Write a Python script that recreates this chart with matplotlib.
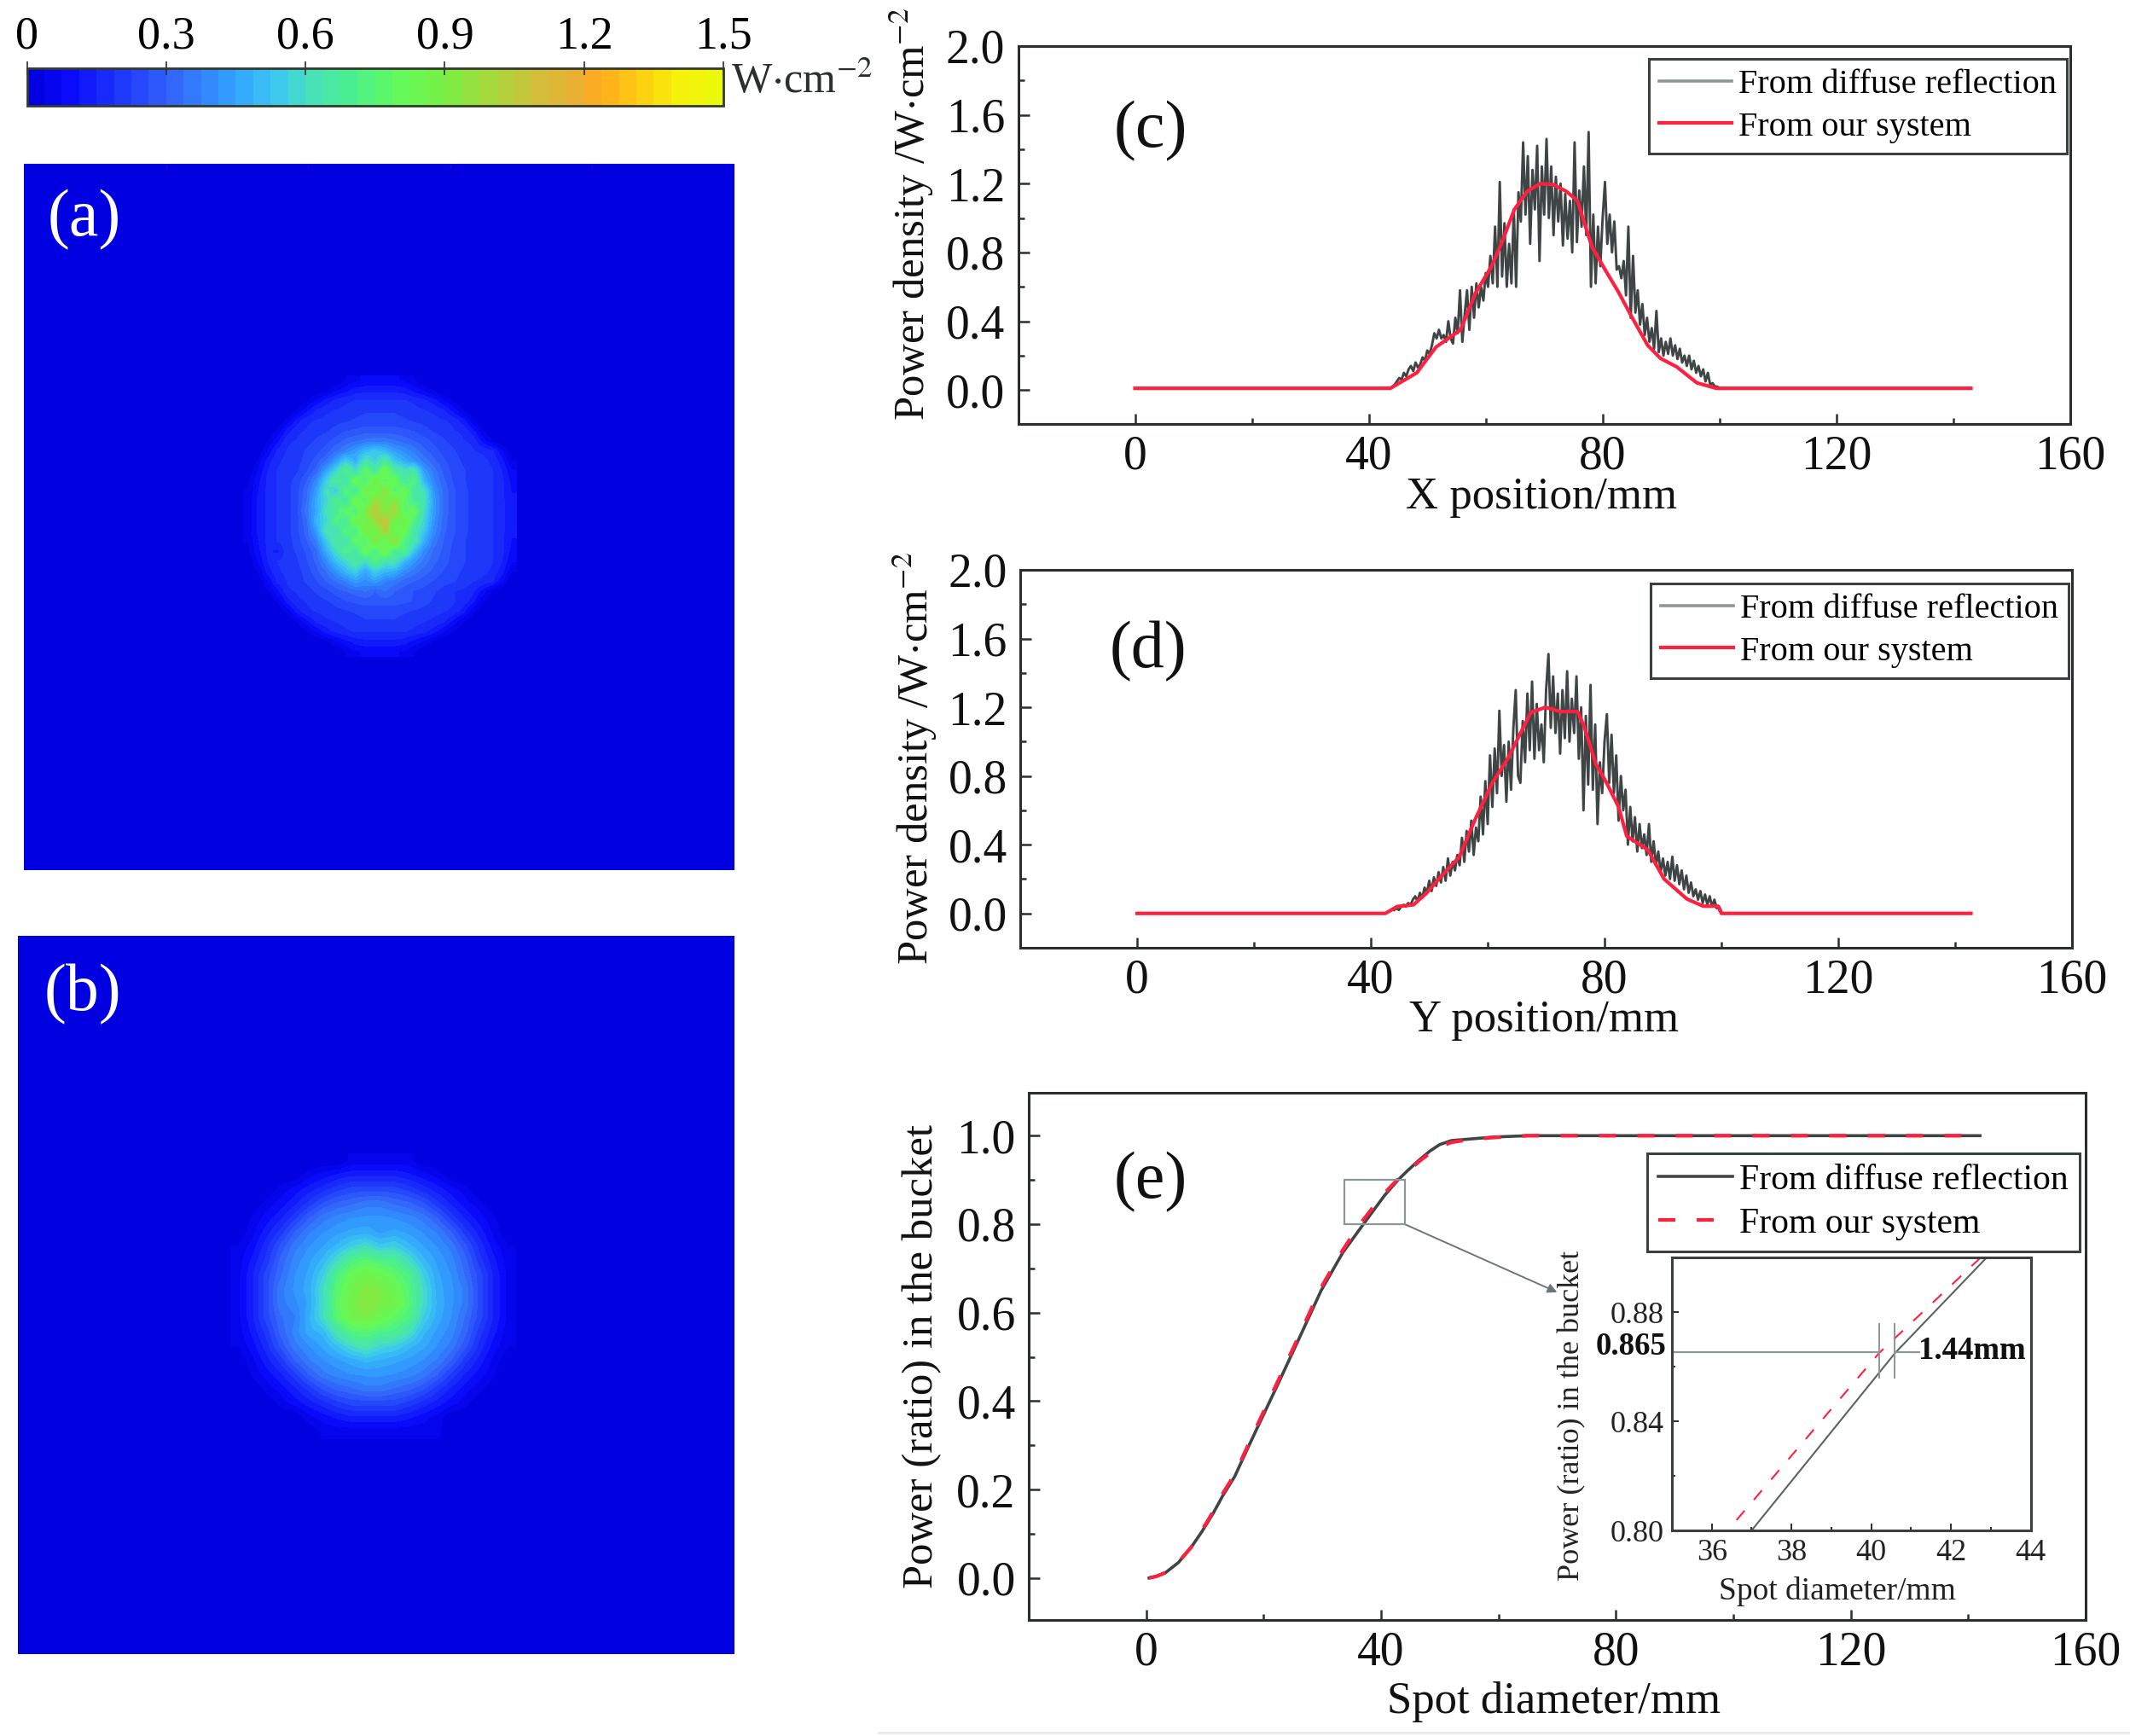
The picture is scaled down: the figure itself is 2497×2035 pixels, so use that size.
import numpy as np
import matplotlib
matplotlib.use("Agg")
import matplotlib.pyplot as plt
from matplotlib.colors import LinearSegmentedColormap, Normalize
from matplotlib.cm import ScalarMappable
from matplotlib.lines import Line2D
from matplotlib.patches import Rectangle
from matplotlib.ticker import MultipleLocator, FormatStrFormatter

plt.rcParams['font.family'] = ['Liberation Serif', 'DejaVu Serif']
plt.rcParams['mathtext.fontset'] = 'stix'

# ---------------- data ----------------
cbar_ticks = [0, 0.3, 0.6, 0.9, 1.2, 1.5]
cbar_labels = ['0', '0.3', '0.6', '0.9', '1.2', '1.5']

# panel (a): power density x100 across the spot
grid_a = [
 [0,0,0,0,0,0,0,0,0,0,4,7,8,8,8,8,7,4,0,0,0,0,0,0,0,0,0,0],
 [0,0,0,0,0,0,0,0,3,7,10,13,14,14,14,14,13,10,7,3,0,0,0,0,0,0,0,0],
 [0,0,0,0,0,0,3,8,13,16,18,19,19,19,19,19,19,18,16,13,8,3,0,0,0,0,0,0],
 [0,0,0,0,0,4,10,16,18,19,20,21,22,22,22,22,21,20,19,18,16,10,4,0,0,0,0,0],
 [0,0,0,0,5,13,18,19,20,21,22,23,24,24,24,24,23,22,21,20,19,18,13,5,0,0,0,0],
 [0,0,0,4,13,18,19,21,22,24,26,27,28,28,28,28,27,26,24,22,21,19,18,13,4,0,0,0],
 [0,0,3,10,18,19,21,23,25,28,31,33,35,36,36,34,32,30,28,25,23,21,19,18,10,3,0,0],
 [0,0,8,16,19,21,23,25,28,33,38,44,50,54,50,44,40,36,31,28,25,23,21,19,18,16,8,0],
 [0,4,13,18,20,21,24,28,34,44,56,48,64,56,68,54,48,42,36,31,27,24,22,21,20,18,13,4],
 [0,8,15,19,20,22,26,32,46,58,72,60,80,66,86,68,62,66,44,36,29,25,23,21,20,19,15,8],
 [3,10,16,19,21,24,30,40,56,70,62,84,72,90,76,84,66,74,50,38,31,26,23,21,20,19,16,10],
 [4,11,16,19,21,25,33,44,62,54,76,66,88,80,96,74,84,66,62,42,33,27,24,21,20,19,16,11],
 [5,12,16,19,21,25,34,48,58,72,64,86,74,100,88,94,78,68,64,44,33,27,24,21,20,19,16,12],
 [5,12,16,19,21,25,36,46,62,68,80,72,92,106,90,102,76,82,60,44,33,27,24,21,20,19,16,12],
 [5,12,16,19,21,25,33,50,58,74,66,86,84,98,110,84,88,72,58,42,32,27,24,21,20,19,16,12],
 [5,12,16,19,21,25,32,44,64,60,76,70,90,84,104,80,84,64,54,40,31,27,24,21,20,19,16,12],
 [4,11,16,19,21,24,30,38,54,68,62,80,74,92,78,98,72,66,48,36,30,26,23,21,20,19,16,11],
 [3,10,16,14,21,23,27,33,48,60,72,64,82,70,86,68,72,52,40,33,29,25,23,21,20,19,16,10],
 [0,8,15,19,20,22,26,31,40,52,58,68,60,74,64,64,50,42,36,31,28,25,23,21,20,19,15,8],
 [0,4,13,18,20,21,24,29,34,42,50,56,46,56,50,48,40,36,32,29,26,24,22,21,20,18,13,4],
 [0,0,8,16,19,21,23,26,30,34,38,44,40,44,38,36,32,30,28,26,24,23,21,19,18,16,8,0],
 [0,0,3,10,18,19,21,23,25,28,30,32,34,30,34,30,28,26,25,23,21,19,18,16,10,3,0,0],
 [0,0,0,4,13,18,19,21,22,24,26,27,28,28,28,28,27,26,24,22,21,19,18,13,4,0,0,0],
 [0,0,0,0,5,13,18,19,20,21,22,23,24,24,24,24,23,22,21,20,19,18,13,5,0,0,0,0],
 [0,0,0,0,0,4,10,16,18,19,20,21,22,22,22,22,21,20,19,18,16,10,4,0,0,0,0,0],
 [0,0,0,0,0,0,3,8,13,16,18,19,19,19,19,19,19,18,16,13,8,3,0,0,0,0,0,0],
 [0,0,0,0,0,0,0,0,3,7,10,13,14,14,14,14,13,10,7,3,0,0,0,0,0,0,0,0],
 [0,0,0,0,0,0,0,0,0,0,4,7,8,8,8,8,7,4,0,0,0,0,0,0,0,0,0,0],
]

# panel (b): power density x100 across the spot
grid_b = [
 [0,0,0,0,0,0,0,0,5,5,5,5,5,0,0,0,0,0,0,0],
 [0,0,0,0,0,6,9,12,14,14,14,14,12,9,6,0,0,0,0,0],
 [0,0,0,5,9,13,17,21,24,24,24,24,21,17,13,9,5,0,0,0],
 [0,0,5,9,14,20,27,31,33,36,36,33,31,27,20,14,9,5,0,0],
 [0,4,9,14,21,30,36,39,41,42,42,41,39,36,30,21,14,9,4,0],
 [0,6,13,20,30,37,41,44,46,47,44,46,44,41,37,30,20,13,6,0],
 [4,9,17,27,36,41,45,50,56,60,54,56,50,45,41,36,27,17,9,4],
 [5,12,20,31,39,44,50,60,72,76,72,70,60,50,44,39,31,20,12,5],
 [6,14,24,33,41,46,56,72,82,86,84,78,72,56,46,41,33,24,14,6],
 [6,14,24,36,42,47,60,76,86,92,90,84,74,60,47,42,36,24,14,6],
 [6,14,24,36,40,46,60,78,88,94,90,86,76,60,48,42,36,24,14,6],
 [6,14,24,33,37,48,60,76,86,90,84,78,72,56,47,41,33,24,14,6],
 [5,12,20,31,39,47,50,64,74,76,72,70,62,50,44,39,31,20,12,5],
 [4,9,17,27,36,41,46,52,60,64,58,56,50,46,41,36,27,17,9,4],
 [0,6,13,20,30,37,41,44,47,50,48,46,44,41,37,30,20,13,6,0],
 [0,4,9,14,21,30,36,39,41,42,42,41,39,36,30,21,14,9,4,0],
 [0,0,5,9,14,20,27,31,33,36,36,33,31,27,20,14,9,5,0,0],
 [0,0,0,5,9,13,17,21,24,24,24,24,21,17,13,9,5,0,0,0],
 [0,0,0,0,0,6,9,12,14,14,14,14,12,9,6,0,0,0,0,0],
 [0,0,0,0,0,0,5,5,5,5,5,5,5,5,5,0,0,0,0,0],
]

# panels (c) and (d): detector samples from 44 mm to 100 mm, 0.4 mm apart
noise_x_start, noise_x_step = 44.0, 0.4
c_diffuse = [
 .02,.03,.05,.07,.06,.10,.08,.12,.14,.11,.16,
 .13,.15,.19,.17,.23,.21,.26,.33,.30,.35,
 .30,.32,.28,.40,.30,.27,.42,.33,.58,.28,
 .44,.58,.35,.60,.42,.62,.48,.60,.52,.68,
 .60,.78,.62,.95,.60,1.21,.66,.97,.60,.85,
 .62,1.05,.60,1.15,.98,1.44,1.02,1.36,.85,1.28,
 1.05,1.42,.75,1.30,1.02,1.46,1.00,1.30,.90,1.24,
 .98,1.20,.84,1.14,.88,1.10,.80,1.44,.86,1.16,
 .95,1.30,.90,1.50,.60,1.02,.62,.95,.72,1.00,
 1.21,.85,1.02,.80,.98,.70,.72,.65,.75,.55,
 .95,.42,.78,.45,.58,.38,.50,.32,.42,.28,
 .36,.24,.46,.22,.30,.20,.28,.21,.30,.20,
 .26,.18,.24,.16,.20,.14,.20,.12,.17,.10,
 .14,.08,.12,.05,.10,.03,.04,.02,.02,.01]
d_diffuse = [
 .02,.03,.02,.04,.05,.04,.06,.05,.08,.10,.07,
 .12,.09,.15,.12,.19,.13,.21,.16,.24,.18,
 .27,.19,.32,.22,.30,.25,.34,.28,.44,.30,
 .48,.36,.54,.34,.50,.42,.68,.46,.77,.52,
 .92,.62,.96,.70,1.18,.80,.98,.65,1.00,.72,
 1.08,1.30,.80,.76,1.12,.88,1.28,.95,1.35,.90,
 1.22,.95,1.10,.88,1.30,1.51,1.08,1.38,1.05,1.28,
 .93,1.30,1.02,1.41,1.00,1.25,1.05,1.38,.90,1.20,
 .60,1.15,.75,1.33,.72,1.10,.52,.88,.70,1.00,
 1.16,.76,1.04,.70,.92,.54,.80,.60,.72,.40,
 .62,.42,.56,.36,.52,.38,.46,.34,.52,.30,
 .42,.28,.36,.24,.32,.22,.30,.20,.33,.19,
 .28,.17,.25,.14,.22,.12,.18,.10,.14,.08,
 .13,.06,.11,.05,.10,.04,.08,.03,.04,.01]

c_sys_x = [0,43.7,48.2,51.5,55.7,58.2,61,62.9,64.9,67.1,69.3,71.5,73.8,75.7,76.8,78.2,80.5,82.7,84.9,87.7,89.9,92.7,96.1,99.4,143]
c_sys_y = [0.01,0.01,.10,.25,.35,.56,.72,.87,1.05,1.155,1.2,1.195,1.155,1.10,.98,.83,.695,.57,.43,.26,.184,.134,.042,0.01,0.01]
d_sys_x = [0,42.5,44.5,47.3,49.5,52.3,55.1,57.9,60.7,63.5,65.7,67.4,69.9,72.4,75.4,76.5,78.5,80.2,82.4,83.8,87.4,90.2,94.1,96.9,99.4,100,142.7]
d_sys_y = [0,0,.04,.05,.117,.226,.327,.55,.754,.905,1.055,1.17,1.2,1.175,1.175,1.09,.87,.77,.62,.45,.37,.20,.084,.042,.042,0,0]

# panel (e)
e_x = [0.5,1.8,3.3,5.5,7.7,9.5,11.4,13,15.1,17,18.8,22.5,26.2,29.8,33.5,37,40.6,42.9,44.6,46.5,48.3,50,52,55.6,59.3,65,142]
e_diff = [0,.004,.012,.035,.07,.105,.146,.185,.23,.285,.336,.44,.546,.65,.736,.80,.865,.90,.922,.945,.965,.98,.989,.993,.997,1,1]
e_sys_x = [0.5,1.8,3.3,5.5,7.7,9.5,11.4,13,15.1,17,18.8,22.5,26.2,29.8,33.5,36.4,40.2,42.75,44.6,46.5,48.3,50,52,55.6,59.3,65,142]
e_sys = [0,.004,.012,.036,.07,.108,.15,.19,.235,.29,.342,.447,.553,.657,.742,.80,.865,.90,.92,.942,.96,.975,.985,.992,.996,1,1]

legend_labels = ['From diffuse reflection', 'From our system']
inset_x = [36, 38, 40, 42, 44]
inset_y = [0.80, 0.84, 0.88]

# ---------------- helpers ----------------
W, H = 2497, 2035
fig = plt.figure(figsize=(W/100, H/100), dpi=100, facecolor='white')
def ax_px(l, t, r, b):
    return fig.add_axes([l/W, 1-b/H, (r-l)/W, (b-t)/H])
def tx(x, y, s, **kw):
    kw.setdefault('ha', 'center'); kw.setdefault('va', 'center')
    return fig.text(x/W, 1-y/H, s, **kw)

INK = '#2a2e2e'
RED = '#ff2040'
DARK = '#3f4545'
GREY = '#8d9696'
TICK_FS, LAB_FS, XLAB_FS = 40, 36.5, 38

cmap_pts = [(0,(0,0,225)),(.05,(10,10,250)),(.2,(50,100,250)),(.29,(50,160,255)),(.355,(60,200,240)),
            (.4,(70,225,190)),(.47,(75,240,140)),(.535,(100,250,90)),(.6,(120,240,70)),(.66,(160,220,60)),
            (.74,(210,190,60)),(.8,(235,175,50)),(.83,(255,170,30)),(.88,(255,200,20)),(.945,(245,240,10)),(1,(235,250,10))]
cmap = LinearSegmentedColormap.from_list('laser', [(p, tuple(v/255 for v in c)) for p, c in cmap_pts], N=40)
norm = Normalize(0, 1.5)
BG = (0, 0, 225/255)

# ---------------- colour bar ----------------
cax = ax_px(31.5, 80, 848, 124)
cb = fig.colorbar(ScalarMappable(norm, cmap), cax=cax, orientation='horizontal')
cb.set_ticks(cbar_ticks, labels=cbar_labels)
cax.xaxis.set_ticks_position('top')
cax.tick_params(axis='x', direction='inout', length=11, width=1.2, labelsize=39, pad=3, color=INK)
cb.outline.set_edgecolor('#333a2a'); cb.outline.set_linewidth(2)
tx(857, 97, r'W$\cdot$cm$^{-2}$', ha='left', fontsize=36, color=INK)

# ---------------- heat maps ----------------
def heat(box, grid, window, label, lab_xy, ticks):
    ax = ax_px(*box)
    ax.set_facecolor(BG)
    l, t, r, b = box
    kx, ky = 144/(r-l), 144/(b-t)
    wl, wt, wr, wb = window
    ext = ((wl-l)*kx, (wr-l)*kx, (b-wb)*ky, (b-wt)*ky)
    ax.imshow(np.array(grid)/100, cmap=cmap, norm=norm, extent=ext, interpolation='bilinear', aspect='auto', origin='upper')
    ax.set_xlim(0, 144); ax.set_ylim(0, 144)
    ax.set_yticks([])
    ax.set_xticks(ticks); ax.set_xticklabels([])
    ax.xaxis.set_ticks_position('top')
    ax.tick_params(axis='x', direction='in', length=4, width=1, color=(0.08,0.08,0.65))
    for s in ax.spines.values():
        s.set_visible(False)
    tx(*lab_xy, label, color='white', fontsize=56)
    return ax

heat((28, 192, 861, 1020), grid_a, (285, 440, 605, 770), '(a)', (99, 258), [28.8, 57.6, 86.4, 115.2])
heat((20.7, 1097, 861, 1939), grid_b, (270, 1352, 605, 1687), '(b)', (97, 1166), [])

# ---------------- line panels ----------------
def style(ax, xlim, ylim, ymaj, ymin):
    ax.set_xlim(*xlim); ax.set_ylim(*ylim)
    ax.xaxis.set_major_locator(MultipleLocator(40)); ax.xaxis.set_minor_locator(MultipleLocator(20))
    ax.yaxis.set_major_locator(MultipleLocator(ymaj)); ax.yaxis.set_minor_locator(MultipleLocator(ymin))
    ax.tick_params(which='major', direction='in', length=9, width=1.8, labelsize=TICK_FS, color=INK, labelcolor='#111')
    ax.tick_params(which='minor', direction='in', length=5, width=1.8, color=INK)
    ax.tick_params(axis='x', which='major', pad=9)
    ax.tick_params(axis='y', which='major', pad=11)
    for s in ax.spines.values():
        s.set_linewidth(2.2); s.set_color(INK)
    ax.xaxis.set_major_formatter(FormatStrFormatter('%d'))

def legend(ax, handles, box_px, fs=29):
    leg = ax.legend(handles=handles, labels=legend_labels, loc='upper left',
                    bbox_to_anchor=(box_px[0]/W, 1-box_px[1]/H), bbox_transform=fig.transFigure,
                    borderaxespad=0, borderpad=0.3, handlelength=2.1, handletextpad=0.2,
                    labelspacing=0.3, fontsize=fs, fancybox=False, framealpha=1,
                    edgecolor='#3a4040')
    leg.get_frame().set_linewidth(2.2)
    return leg

nx = noise_x_start + noise_x_step*np.arange(len(c_diffuse))

axc = ax_px(1193.5, 54, 2427, 497.5)
style(axc, (-20, 160), (-0.2, 2.0), 0.4, 0.2)
axc.plot(nx, c_diffuse, color=DARK, lw=2.1)
l2, = axc.plot(c_sys_x, c_sys_y, color=RED, lw=3.0)
legend(axc, [Line2D([], [], color=GREY, lw=2.6), l2], (1933, 69))
tx(1349, 154, '(c)', fontsize=56, color='#111')
tx(1068, 251, r'Power density /W$\cdot$cm$^{-2}$', rotation=90, fontsize=LAB_FS, color='#111')
tx(1807, 583, 'X position/mm', fontsize=XLAB_FS, color='#111')

axd = ax_px(1196, 668, 2429, 1111)
style(axd, (-20, 160), (-0.2, 2.0), 0.4, 0.2)
axd.plot(nx, d_diffuse, color=DARK, lw=2.1)
l2d, = axd.plot(d_sys_x, d_sys_y, color=RED, lw=3.0)
legend(axd, [Line2D([], [], color=GREY, lw=2.6), l2d], (1935, 684))
tx(1346, 764, '(d)', fontsize=56, color='#111')
tx(1072, 889, r'Power density /W$\cdot$cm$^{-2}$', rotation=90, fontsize=LAB_FS, color='#111')
tx(1810, 1196, 'Y position/mm', fontsize=XLAB_FS, color='#111')

axe = ax_px(1206, 1281, 2445, 1899)
style(axe, (-20, 160), (-0.095, 1.097), 0.2, 0.1)
le1, = axe.plot(e_x, e_diff, color=DARK, lw=2.6)
le2, = axe.plot(e_sys_x, e_sys, color=RED, lw=3.0, dashes=(4.8, 6))
legend(axe, [Line2D([], [], color=DARK, lw=2.6), Line2D([], [], color=RED, lw=3.0, dashes=(4.8, 6))], (1931, 1352), fs=30)
tx(1349, 1386, '(e)', fontsize=56, color='#111')
tx(1081, 1590, 'Power (ratio) in the bucket', rotation=90, fontsize=LAB_FS, color='#111')
tx(1822, 1995, 'Spot diameter/mm', fontsize=XLAB_FS, color='#111')
axe.add_patch(Rectangle((33.7, 0.80), 10.3, 0.10, fill=False, ec=GREY, lw=1.6, zorder=4))
axe.annotate('', xy=(70, 0.646), xytext=(44, 0.80),
             arrowprops=dict(arrowstyle='-|>', color='#6d7676', lw=1.4, mutation_scale=16, shrinkA=0, shrinkB=0))

# ---------------- inset ----------------
ins = ax_px(1960, 1474, 2380.5, 1794)
ins.set_xlim(35, 44); ins.set_ylim(0.80, 0.90)
ins.set_xticks(inset_x); ins.set_yticks(inset_y)
ins.set_yticklabels(['%.2f' % v for v in inset_y])
ins.xaxis.set_minor_locator(MultipleLocator(1)); ins.yaxis.set_minor_locator(MultipleLocator(0.02))
ins.tick_params(which='major', direction='in', length=6, width=1.4, labelsize=26, color=INK, pad=7, labelcolor='#222')
ins.tick_params(which='minor', direction='in', length=3, width=1.4, color=INK)
for s in ins.spines.values():
    s.set_linewidth(2.2); s.set_color('#3a4040')
ins.plot(e_x, e_diff, color='#5a6262', lw=1.5)
ins.plot(e_sys_x, e_sys, color=RED, lw=1.5, dashes=(7, 8))
ref_y, x_sys, x_diff, hline_end = 0.8652, 40.2, 40.58, 41.2
ins.plot([35, x_sys], [ref_y, ref_y], color=GREY, lw=1.6)
ins.plot([x_diff, hline_end], [ref_y, ref_y], color=GREY, lw=1.6)
ins.plot([x_sys, x_sys], [0.856, 0.8756], color=GREY, lw=1.4)
ins.plot([x_diff, x_diff], [0.856, 0.8756], color=GREY, lw=1.4)
tx(2249, 1583, '1.44mm', ha='left', fontsize=26.5, fontweight='bold', color='#111')
tx(1954, 1578, '0.865', ha='right', fontsize=26.5, fontweight='bold', color='#111')
tx(1843, 1659, 'Power (ratio) in the bucket', rotation=90, fontsize=26, color='#222')
tx(2154, 1865, 'Spot diameter/mm', fontsize=27, color='#222')

fig.add_artist(Line2D([1030/W, 1], [1-2031/H, 1-2031/H], color='#e6eaea', lw=2))

fig.savefig('out.png', dpi=100, facecolor='white')
